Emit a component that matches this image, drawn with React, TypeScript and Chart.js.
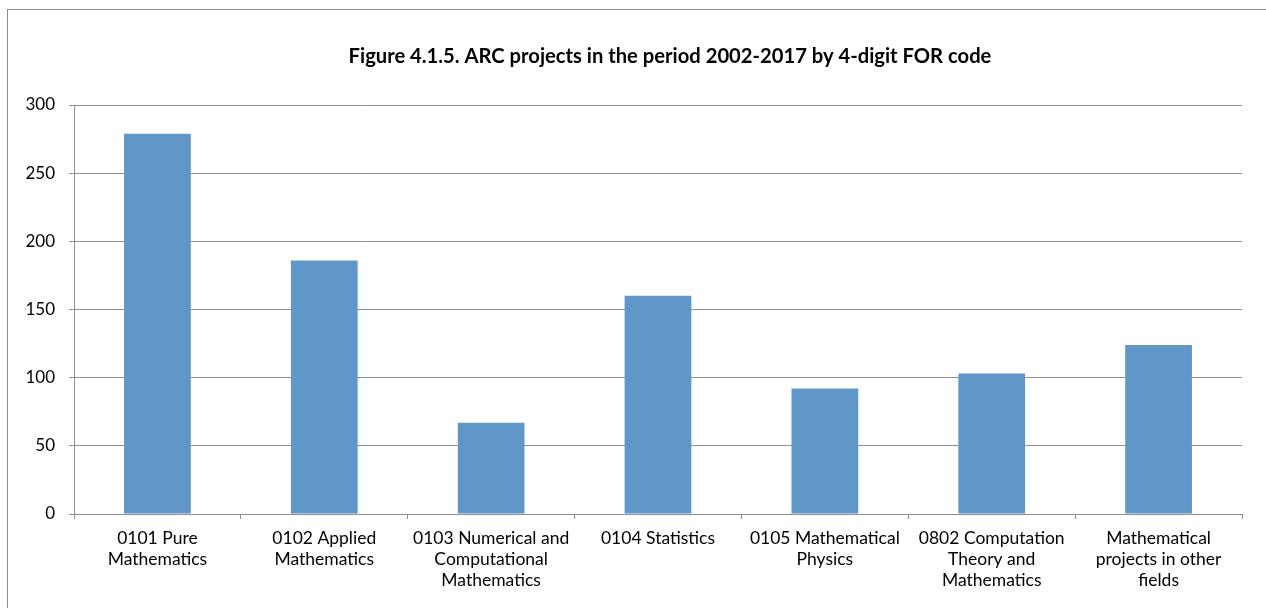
import React, { useEffect, useRef } from "react";
import { Chart, registerables } from "chart.js";

Chart.register(...registerables);

const categories: string[][] = [
  ["0101 Pure", "Mathematics"],
  ["0102 Applied", "Mathematics"],
  ["0103 Numerical and", "Computational", "Mathematics"],
  ["0104 Statistics"],
  ["0105 Mathematical", "Physics"],
  ["0802 Computation", "Theory and", "Mathematics"],
  ["Mathematical", "projects in other", "fields"],
];
const projectCounts: number[] = [279, 186, 67, 160, 92, 103, 124];
const yTicks: number[] = [0, 50, 100, 150, 200, 250, 300];
const titleText = "Figure 4.1.5. ARC projects in the period 2002-2017 by 4-digit FOR code";

const FONT = "Lato, 'Open Sans', sans-serif";

const framePlugin = {
  id: "frameAndTitle",
  beforeDraw(chart: any) {
    const ctx = chart.ctx;
    ctx.save();
    ctx.fillStyle = "#ffffff";
    ctx.fillRect(0, 0, chart.width, chart.height);
    ctx.strokeStyle = "#8e8e8e";
    ctx.lineWidth = 1;
    ctx.strokeRect(7.5, 9.5, chart.width + 20, chart.height + 20);
    ctx.restore();
  },
  afterDraw(chart: any) {
    const ctx = chart.ctx;
    ctx.save();
    ctx.fillStyle = "#000000";
    ctx.font = `bold 20.2px ${FONT}`;
    ctx.textAlign = "center";
    ctx.textBaseline = "middle";
    ctx.fillText(titleText, 670, 56);
    ctx.restore();
  },
};

export default function App() {
  const canvasRef = useRef<HTMLCanvasElement | null>(null);

  useEffect(() => {
    if (!canvasRef.current) return;
    const chart = new Chart(canvasRef.current, {
      type: "bar",
      data: {
        labels: categories,
        datasets: [
          {
            data: projectCounts,
            backgroundColor: "#6096c8",
            borderWidth: 0,
            categoryPercentage: 1,
            barPercentage: 0.4,
          },
        ],
      },
      options: {
        animation: false,
        responsive: false,
        maintainAspectRatio: false,
        layout: { padding: { top: 105, right: 24, bottom: 0, left: 0 } },
        plugins: {
          legend: { display: false },
          title: { display: false },
          tooltip: { enabled: false },
        },
        scales: {
          x: {
            offset: true,
            grid: {
              display: true,
              offset: true,
              drawOnChartArea: false,
              drawTicks: true,
              tickLength: 5,
              color: "#8f8f8f",
              lineWidth: 1,
            },
            border: { display: true, color: "#8f8f8f", width: 1 },
            ticks: {
              autoSkip: false,
              maxRotation: 0,
              minRotation: 0,
              padding: 9,
              color: "#000000",
              font: { family: FONT, size: 17.5, lineHeight: 1.2 },
            },
            afterFit(scale: any) {
              scale.height = 94;
            },
          },
          y: {
            min: 0,
            max: 300,
            afterBuildTicks(scale: any) {
              scale.ticks = yTicks.map((v) => ({ value: v }));
            },
            grid: {
              color: "#8f8f8f",
              lineWidth: 1,
              drawTicks: true,
              tickLength: 5,
            },
            border: { display: true, color: "#8f8f8f", width: 1 },
            ticks: {
              padding: 14,
              color: "#000000",
              font: { family: FONT, size: 17 },
            },
            afterFit(scale: any) {
              scale.width = 74;
            },
          },
        },
      },
      plugins: [framePlugin],
    });
    return () => chart.destroy();
  }, []);

  return (
    <div style={{ position: "absolute", left: 0, top: 0, width: 1266, height: 608, background: "#fff" }}>
      <canvas ref={canvasRef} width={1266} height={608} style={{ display: "block", width: 1266, height: 608 }} />
    </div>
  );
}
